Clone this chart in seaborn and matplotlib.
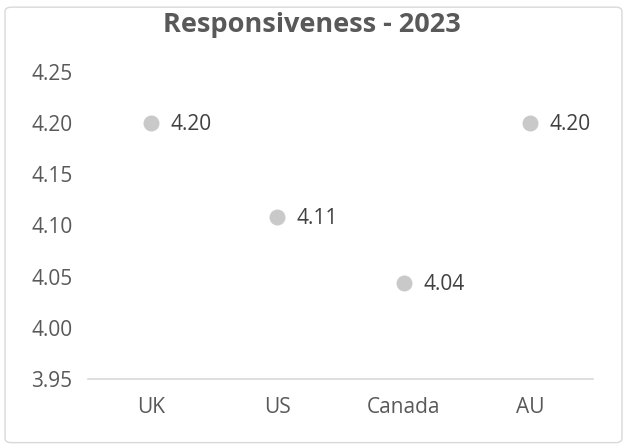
import matplotlib
matplotlib.use("Agg")
import matplotlib.pyplot as plt
import seaborn as sns
import pandas as pd
from matplotlib.patches import FancyBboxPatch

# data
countries = ["UK", "US", "Canada", "AU"]
scores = [4.20, 4.108, 4.044, 4.20]
yticks = [3.95, 4.00, 4.05, 4.10, 4.15, 4.20, 4.25]

df = pd.DataFrame({"country": countries, "score": scores})

sns.set_style("white")
plt.rcParams["font.family"] = ["Open Sans", "DejaVu Sans"]

fig = plt.figure(figsize=(6.27, 4.48), dpi=100)
ax = fig.add_axes([0.14, 0.154, 0.806, 0.686])

sns.stripplot(data=df, x="country", y="score", jitter=False, color="#c9c9c9",
              size=11.5, linewidth=0, ax=ax)

# value labels
for i, v in enumerate(scores):
    ax.annotate(f"{v:.2f}", (i, v), xytext=(14, -1), textcoords="offset points",
                ha="left", va="center", fontsize=15, color="#404040")

ax.set_ylim(3.95, 4.25)
ax.set_xlim(-0.5, 3.5)
ax.set_yticks(yticks)
ax.set_yticklabels([f"{t:.2f}" for t in yticks])
ax.set_xlabel("")
ax.set_ylabel("")
ax.tick_params(axis="both", length=0, labelsize=15, colors="#595959")
ax.tick_params(axis="y", pad=11)
ax.tick_params(axis="x", pad=13)
for s in ["top", "right", "left"]:
    ax.spines[s].set_visible(False)
ax.spines["bottom"].set_color("#d9d9d9")
ax.spines["bottom"].set_linewidth(1.2)

fig.text(0.497, 0.944, "Responsiveness - 2023", ha="center", va="center",
         fontsize=19.5, fontweight="bold", color="#595959")

# chart border
border = FancyBboxPatch((0.008, 0.012), 0.984, 0.972, boxstyle="round,pad=0,rounding_size=0.01",
                        transform=fig.transFigure, fill=False, edgecolor="#d9d9d9", linewidth=1)
fig.patches.append(border)

fig.savefig("out.png", dpi=100)
